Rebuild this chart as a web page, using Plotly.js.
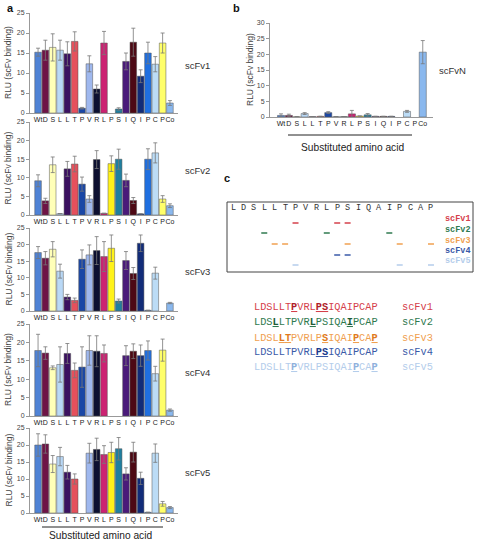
<!DOCTYPE html>
<html><head><meta charset="utf-8">
<script src="https://cdn.plot.ly/plotly-3.0.1.min.js"></script>
<style>html,body{margin:0;padding:0;background:#fff}#chart{width:477px;height:542px}</style>
</head><body><div id="chart"></div>
<script>
// ---- data ----
const categories = ['Wt','D','S','L','L','T','P','V','R','L','P','S','I','Q','I','P','C','P','Co'];
const barColors = ['#4f83d6','#6e1446','#ffffb8','#b9d8f6','#3b1160','#e5505c','#1a47a6','#9fb8ee','#0d1030','#cc2272','#fff21a','#1f7fa0','#4a1a7a','#4d0914','#122c78','#1f6fe0','#bcdcf6','#ffff6a','#8ab8ee'];

const scFv1 = [15.2,15.7,16.4,15.7,14.8,17.9,1.2,12.3,6.0,17.5,null,1.0,12.9,17.7,9.2,15.0,12.2,17.5,2.5];
const err1  = [1.0,2.5,3.4,2.5,3.0,2.4,0.2,2.0,1.0,2.9,null,0.3,2.1,3.5,1.6,2.7,1.9,2.5,0.6];
const scFv2 = [9.2,3.8,13.5,0.35,12.4,13.7,8.3,4.3,14.9,0.45,13.8,15.0,9.3,3.9,0.3,15.0,16.7,4.3,2.5];
const err2  = [1.6,0.7,2.1,null,2.0,2.1,1.9,0.9,2.4,null,2.1,2.7,1.7,0.8,null,2.8,2.7,0.9,0.5];
const scFv3 = [17.6,15.9,18.6,12.0,4.2,3.2,15.6,16.9,18.2,16.4,18.9,3.0,15.2,11.3,20.4,0.2,11.4,null,2.4];
const err3  = [1.8,2.0,2.3,2.1,0.8,0.7,2.8,3.0,4.2,4.5,4.0,0.6,2.7,1.8,2.5,null,1.8,null,0.2];
const scFv4 = [17.8,17.1,13.1,14.0,17.0,12.4,13.3,17.8,17.6,17.0,null,null,16.4,17.6,16.4,17.8,11.5,17.9,1.6];
const err4  = [4.4,1.7,0.5,4.8,2.7,2.0,5.5,4.0,4.2,2.3,null,null,2.7,2.0,2.9,2.6,2.0,3.0,0.3];
const scFv5 = [20.0,20.3,14.4,16.6,12.0,10.0,null,17.6,18.7,17.2,17.8,18.9,11.5,17.9,10.2,0.2,17.6,2.7,1.6];
const err5  = [3.3,2.7,2.5,2.7,2.0,1.5,null,2.9,3.3,2.6,3.0,3.3,1.8,2.9,1.8,null,2.7,0.7,0.3];
const scFvN = [0.5,0.5,0.1,1.1,0.1,0.2,1.4,0.1,0.1,1.0,0.3,0.7,0.2,0.2,0.2,null,1.8,null,20.7];
const errN  = [0.5,0.4,null,0.3,null,null,0.3,null,null,1.1,null,0.4,null,null,null,null,0.3,null,3.7];

const peptide = ['L','D','S','L','L','T','P','V','R','L','P','S','I','Q','A','I','P','C','A','P'];
const cloneNames = ['scFv1','scFv2','scFv3','scFv4','scFv5'];
const cloneColors = ['#d5404b','#2f7a4f','#f0a050','#3a5aa8','#b4cdeb'];
const sites1 = [7,11,12];
const sites2 = [4,10,16];
const sites3 = [5,6,12,17,20];
const sites4 = [11,12];
const sites5 = [7,17,20];
const sitesAll = [sites1,sites2,sites3,sites4,sites5];

// ---- layout helpers (pixel -> paper) ----
const W = 477, H = 542;
const px = v => v / W;
const py = v => 1 - v / H;
const idx = categories.map((c,i)=>i);
const FONT = 'Liberation Sans, Arial, sans-serif';
const MONO = 'Liberation Mono, Courier New, monospace';

const panelsA = [
  {vals:scFv1, err:err1, name:'scFv1', top:13,  bot:113},
  {vals:scFv2, err:err2, name:'scFv2', top:122, bot:215},
  {vals:scFv3, err:err3, name:'scFv3', top:228, bot:311},
  {vals:scFv4, err:err4, name:'scFv4', top:324, bot:416},
  {vals:scFv5, err:err5, name:'scFv5', top:428, bot:513}
];
const panelB = {vals:scFvN, err:errN, name:'scFvN', top:23, bot:117};

const traces = [];
const layout = {
  width:W, height:H, margin:{l:0,r:0,t:0,b:0},
  paper_bgcolor:'#fff', plot_bgcolor:'rgba(0,0,0,0)',
  showlegend:false, bargap:0.1,
  font:{family:FONT, color:'#333'},
  annotations:[], shapes:[]
};

function addPanel(p, k, x0, x1, xr, yr) {
  const xa = k===1 ? 'x' : 'x'+k, ya = k===1 ? 'y' : 'y'+k;
  traces.push({
    type:'bar', x:idx, y:p.vals, xaxis:xa, yaxis:ya,
    marker:{color:barColors, line:{color:'#555', width:0.5}},
    error_y:{type:'data', array:p.err, visible:true, color:'#777', thickness:0.8, width:2},
    hoverinfo:'skip'
  });
  layout['xaxis'+(k===1?'':k)] = {
    domain:[px(x0), px(x1)], anchor:ya, range:xr,
    tickmode:'array', tickvals:idx, ticktext:categories, tickangle:0,
    tickfont:{size:7, color:'#222'}, showline:true, linecolor:'#999', linewidth:1,
    ticks:'', showgrid:false, zeroline:false, fixedrange:true
  };
  layout['yaxis'+(k===1?'':k)] = {
    domain:[py(p.bot), py(p.top)], anchor:xa, range:yr, dtick:5,
    tickfont:{size:7, color:'#444'}, showline:true, linecolor:'#999', linewidth:1,
    ticks:'outside', ticklen:3, tickcolor:'#999', showgrid:false, zeroline:false, fixedrange:true
  };
}

panelsA.forEach((p,i)=>{
  addPanel(p, i+1, 30, 178, [-1.1, 19.1], [0,25]);
  const yc = (p.top+p.bot)/2;
  layout.annotations.push({xref:'paper', yref:'paper', x:px(183), y:py(yc+2), xanchor:'left', yanchor:'middle',
    text:p.name, showarrow:false, font:{size:9.5, color:'#333'}});
  layout.annotations.push({xref:'paper', yref:'paper', x:px(8), y:py(yc), xanchor:'center', yanchor:'middle',
    text:'RLU (scFv binding)', textangle:-90, showarrow:false, font:{size:8.5, color:'#444'}});
});
addPanel(panelB, 6, 270, 433, [-1.4, 19.3], [0,30]);
layout.annotations.push({xref:'paper', yref:'paper', x:px(437), y:py(70), xanchor:'left', yanchor:'middle',
  text:'scFvN', showarrow:false, font:{size:9.5, color:'#333'}});
layout.annotations.push({xref:'paper', yref:'paper', x:px(250), y:py(70), xanchor:'center', yanchor:'middle',
  text:'RLU (scFv binding)', textangle:-90, showarrow:false, font:{size:8.5, color:'#444'}});

// panel letters
[['a',5,8],['b',231,8],['c',222,178]].forEach(([t,x,y])=>{
  layout.annotations.push({xref:'paper', yref:'paper', x:px(x), y:py(y), xanchor:'left', yanchor:'middle',
    text:'<b>'+t+'</b>', showarrow:false, font:{size:11, color:'#111'}});
});

// x titles with underline bars
[[42,163,527,535,100],[288,412,135,147,352]].forEach(([a,b,ly,ty,tx])=>{
  layout.shapes.push({type:'line', xref:'paper', yref:'paper', x0:px(a), x1:px(b), y0:py(ly), y1:py(ly), line:{color:'#222', width:1}});
  layout.annotations.push({xref:'paper', yref:'paper', x:px(tx), y:py(ty), xanchor:'center', yanchor:'middle',
    text:'Substituted amino acid', showarrow:false, font:{size:10.2, color:'#222'}});
});

// panel c: box
layout.shapes.push({type:'rect', xref:'paper', yref:'paper', x0:px(227), x1:px(473), y0:py(272), y1:py(202),
  line:{color:'#444', width:1}, fillcolor:'rgba(0,0,0,0)'});
const seqX0 = 233, seqStep = 10.42;
peptide.forEach((aa,i)=>{
  layout.annotations.push({xref:'paper', yref:'paper', x:px(seqX0+i*seqStep), y:py(208), xanchor:'center', yanchor:'middle',
    text:aa, showarrow:false, font:{size:8.5, family:MONO, color:'#333'}});
});
const rowY = [223,233,244,255,265];
const legY = [219,230,241,251,261];
sitesAll.forEach((s,r)=>{
  s.forEach(pos=>{
    const cx = seqX0+(pos-1)*seqStep;
    layout.shapes.push({type:'line', xref:'paper', yref:'paper', x0:px(cx-3), x1:px(cx+3), y0:py(rowY[r]), y1:py(rowY[r]),
      line:{color:cloneColors[r], width:1.5}});
  });
  layout.annotations.push({xref:'paper', yref:'paper', x:px(443), y:py(legY[r]), xanchor:'left', yanchor:'middle',
    text:'<b>'+cloneNames[r]+'</b>', showarrow:false, font:{size:8.5, family:MONO, color:cloneColors[r]}});
});

// sequence lines with emphasised epitope residues
const lineY = [307,322,338,352,367];
sitesAll.forEach((s,r)=>{
  let txt = '';
  peptide.forEach((aa,i)=>{
    if (s.includes(i+1)) {
      const darker = ['#b01e2a','#1d5c36','#e07a20','#1c3a8c','#8fb0dc'][r];
      txt += '<b><u><span style="color:'+darker+'">'+aa+'</span></u></b>';
    } else txt += aa;
  });
  layout.annotations.push({xref:'paper', yref:'paper', x:px(252), y:py(lineY[r]), xanchor:'left', yanchor:'middle',
    text:txt, showarrow:false, font:{size:10.3, family:MONO, color:cloneColors[r]}});
  layout.annotations.push({xref:'paper', yref:'paper', x:px(400), y:py(lineY[r]), xanchor:'left', yanchor:'middle',
    text:cloneNames[r], showarrow:false, font:{size:10.3, family:MONO, color:cloneColors[r]}});
});

Plotly.newPlot('chart', traces, layout, {staticPlot:true, displayModeBar:false});
</script>
</body></html>
